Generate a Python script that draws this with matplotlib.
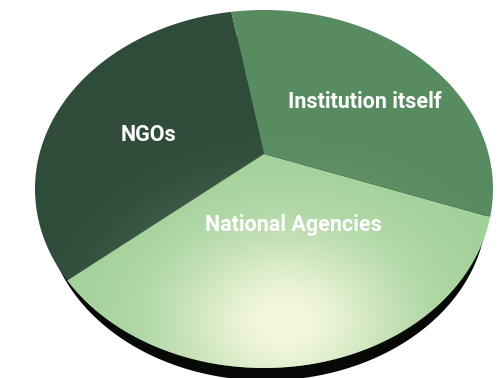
import numpy as np
import matplotlib
matplotlib.use("Agg")
import matplotlib.pyplot as plt
import matplotlib.patches as mpatches
import matplotlib.transforms as mtransforms
from matplotlib.path import Path
from matplotlib import font_manager as fm
from matplotlib.colors import to_rgb

# funding sources and their shares (%)
sources = ["NGOs", "National Agencies", "Institution itself"]
shares = [33.3, 33.3, 33.3]
colors = ["#2f4c3b", "#a2d19a", "#578b60"]
label_pos = [(149, 135), (293, 225), (365, 102)]

W, H = 503, 378

# outline of the disc on the page: centre, semi-axes, and the tilt
# (how far the pie centre is pushed towards the back edge)
ell_c = (264, 189)
ell_a, ell_b = 229, 179
tilt_t = 0.196


class Tilt(mtransforms.Transform):
    """Perspective view of the unit pie disc, output in pixel data coords."""
    input_dims = output_dims = 2
    is_separable = False
    has_inverse = False

    def __init__(self, m):
        super().__init__()
        self.m = m

    def transform_non_affine(self, values):
        xy = np.asarray(values, float).reshape(-1, 2)
        p = np.column_stack([xy, np.ones(len(xy))]) @ self.m.T
        return p[:, :2] / p[:, 2:]

    def transform_path_non_affine(self, path):
        # flatten the arcs first; straight edges stay straight under projection
        k = 1000.0
        polys = path.to_polygons(transform=mtransforms.Affine2D().scale(k))
        verts, codes = [], []
        for poly in polys:
            pts = self.transform_non_affine(poly / k)
            verts.extend(pts)
            codes.extend([Path.MOVETO] + [Path.LINETO] * (len(pts) - 2) + [Path.CLOSEPOLY])
        return Path(np.array(verts), codes)


# projective map keeping the unit circle on itself but moving its centre
s = np.sqrt(1 - tilt_t ** 2)
boost = np.array([[s, 0, 0], [0, 1, tilt_t], [0, tilt_t, 1]])
page = np.array([[ell_a, 0, ell_c[0]], [0, -ell_b, ell_c[1]], [0, 0, 1]])
tilt = Tilt(page @ boost)

names = {f.name for f in fm.fontManager.ttflist}
font = "Liberation Sans Narrow" if "Liberation Sans Narrow" in names else "Roboto"

fig = plt.figure(figsize=(W / 100, H / 100), dpi=100)
ax = fig.add_axes([0, 0, 1, 1])

# dark underside showing below the front edge
cx, cy = tilt.transform_non_affine((0, 0))[0]
under = (mtransforms.Affine2D().translate(-cx, -cy).scale(0.965)
         .translate(cx + 2, cy + 20))
ax.add_patch(mpatches.Circle((0, 0), 1, facecolor="#060906", edgecolor="none",
                             transform=tilt + under + ax.transData, zorder=1))

wedges, _ = ax.pie(shares, colors=colors, startangle=100, counterclock=True,
                   wedgeprops=dict(linewidth=0))
for w in wedges:
    w.set_transform(tilt + ax.transData)
    w.set_zorder(2)

# soft light on the front of the disc
gx, gy = tilt.transform_non_affine((0.08, -0.82))[0]
yy, xx = np.mgrid[0:H, 0:W] + 0.5
d = np.hypot((xx - gx) / 1.3, yy - gy)
glow = np.zeros((H, W, 4))
glow[..., :3] = to_rgb("#fbfbe4")
glow[..., 3] = 0.95 * np.exp(-(d / 88) ** 2)
im = ax.imshow(glow, extent=(0, W, H, 0), zorder=3, interpolation="bilinear")
disc = mpatches.Circle((0, 0), 1, transform=tilt + ax.transData)
im.set_clip_path(disc)

for name, (x, y) in zip(sources, label_pos):
    ax.text(x, y, name, color="white", fontsize=15.5, fontweight="bold",
            family=font, ha="center", va="center", zorder=4)

ax.set_xlim(0, W)
ax.set_ylim(H, 0)
ax.set_aspect("auto")
ax.axis("off")
fig.savefig("out.png", dpi=100, facecolor="white")
